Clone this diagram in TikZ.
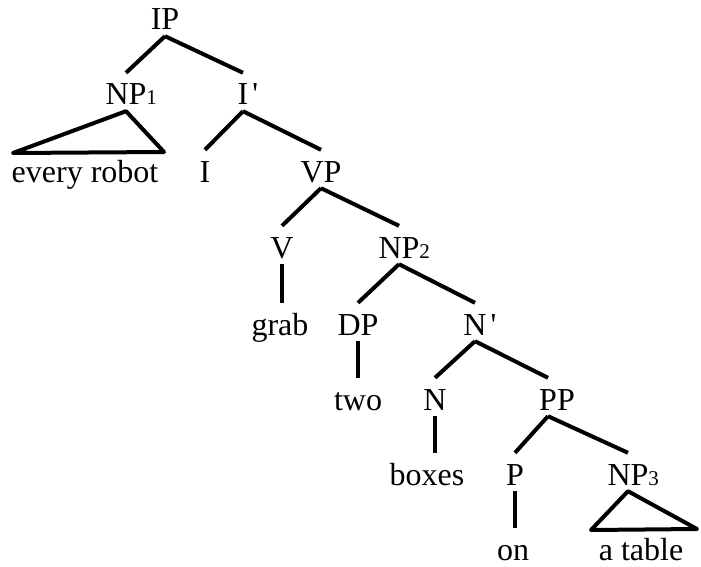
\documentclass[tikz,border=0pt]{standalone}
\usepackage{fontspec}
\setmainfont{Liberation Serif}
\newcommand\subn[1]{\rlap{\fontsize{21}{21}\selectfont #1}}
\newcommand\primemark{\rlap{\kern4pt\textquotesingle}}
\tikzset{
  lab/.style={anchor=base, inner sep=0pt, text height=32pt, text depth=6pt,
              font=\fontsize{32}{38}\selectfont},
  br/.style={line width=4pt},
  tri/.style={line width=4pt, line join=round}
}
\begin{document}
\begin{tikzpicture}[x=1pt,y=-1pt]
\useasboundingbox (0,0) rectangle (701,567);
% level 0
\node[lab] (IP) at (165,30) {IP};
% level 1
\node[lab] (NP1) at (126,105) {NP\subn{1}};
\node[lab] (Ib) at (243,105) {I\primemark};
% level 2
\node[lab] (every) at (85,182) {every robot};
\node[lab] (I) at (205,182) {I};
\node[lab] (VP) at (321,182) {VP};
% level 3
\node[lab] (V) at (282,258) {V};
\node[lab] (NP2) at (399,258) {NP\subn{2}};
% level 4
\node[lab] (grab) at (280,335) {grab};
\node[lab] (DP) at (358,335) {DP};
\node[lab] (Nb) at (475,335) {N\primemark};
% level 5
\node[lab] (two) at (358,410) {two};
\node[lab] (N) at (435,410) {N};
\node[lab] (PP) at (557,410) {PP};
% level 6
\node[lab] (boxes) at (427,485) {boxes};
\node[lab] (P) at (515,485) {P};
\node[lab] (NP3) at (628,485) {NP\subn{3}};
% level 7
\node[lab] (on) at (513,560) {on};
\node[lab] (atable) at (641,560) {a table};
% triangle corners
\coordinate (t1l) at (13,153);
\coordinate (t1r) at (164,152);
\coordinate (t3l) at (591,530);
\coordinate (t3r) at (697,529);
% edges
\draw[br] (IP.south) -- (NP1.north);
\draw[br] (IP.south) -- (Ib.north);
\draw[tri] (NP1.south) -- (t1l) -- (t1r) -- cycle;
\draw[br] (Ib.south) -- (I.north);
\draw[br] (Ib.south) -- (VP.north);
\draw[br] (VP.south) -- (V.north);
\draw[br] (VP.south) -- (NP2.north);
\draw[br] (V.south) -- (V.south |- grab.north);
\draw[br] (NP2.south) -- (DP.north);
\draw[br] (NP2.south) -- (Nb.north);
\draw[br] (DP.south) -- (DP.south |- two.north);
\draw[br] (Nb.south) -- (N.north);
\draw[br] (Nb.south) -- ([xshift=-9pt]PP.north);
\draw[br] (N.south) -- (N.south |- boxes.north);
\draw[br] ([xshift=-9pt]PP.south) -- (P.north);
\draw[br] ([xshift=-9pt]PP.south) -- (NP3.north);
\draw[br] (P.south) -- (P.south |- on.north);
\draw[tri] (NP3.south) -- (t3l) -- (t3r) -- cycle;
\end{tikzpicture}
\end{document}
